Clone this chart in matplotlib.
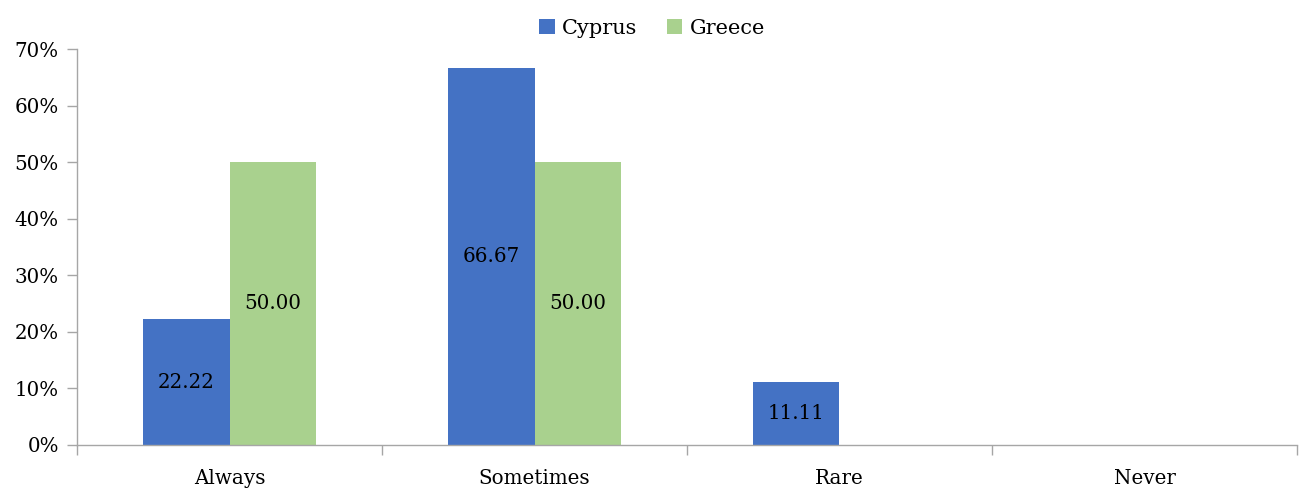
import matplotlib
matplotlib.use("Agg")
import matplotlib.pyplot as plt
from matplotlib.ticker import FuncFormatter, FixedLocator
import numpy as np

categories = ["Always", "Sometimes", "Rare", "Never"]
cyprus = [22.22, 66.67, 11.11, 0.0]
greece = [50.00, 50.00, 0.0, 0.0]
series_names = ["Cyprus", "Greece"]
colors = ["#4472C4", "#A9D18E"]

plt.rcParams['font.family'] = ['DejaVu Serif']
FS = 14.3

fig = plt.figure(figsize=(12.99, 4.88), dpi=100)
ax = fig.add_axes([77/1299, 1-445/488, (1297-77)/1299, (445-49)/488])

x = np.arange(len(categories))
w = 0.285
for vals, name, col, off in [(cyprus, series_names[0], colors[0], -w/2), (greece, series_names[1], colors[1], w/2)]:
    bars = ax.bar(x + off, vals, width=w, color=col, label=name, zorder=2)
    for b, v in zip(bars, vals):
        if v > 0:
            ax.text(b.get_x() + b.get_width()/2, v/2, f"{v:.2f}", ha="center", va="center",
                    fontsize=FS, color="black", zorder=3)

ax.set_xlim(-0.5, len(categories) - 0.5)
ax.set_ylim(0, 70)
ax.set_yticks(np.arange(0, 71, 10))
ax.yaxis.set_major_formatter(FuncFormatter(lambda v, p: f"{v:.0f}%"))
ax.set_xticks(x)
ax.set_xticklabels(categories)
ax.xaxis.set_minor_locator(FixedLocator(np.arange(-0.5, len(categories), 1.0)))
ax.tick_params(axis="x", which="major", length=0, labelsize=FS, pad=17)
ax.tick_params(axis="x", which="minor", length=7, color="#A6A6A6", width=1)
ax.tick_params(axis="y", length=7, color="#A6A6A6", width=1, labelsize=FS, pad=6)

for s in ["top", "right"]:
    ax.spines[s].set_visible(False)
for s in ["left", "bottom"]:
    ax.spines[s].set_color("#A6A6A6")
    ax.spines[s].set_linewidth(1)

fig.legend(loc="upper center", bbox_to_anchor=(0.502, 1.0), ncol=2, frameon=False,
           fontsize=FS + 0.7, handlelength=0.75, handleheight=0.75, handletextpad=0.35, columnspacing=1.4)

fig.savefig("out.png", dpi=100)
